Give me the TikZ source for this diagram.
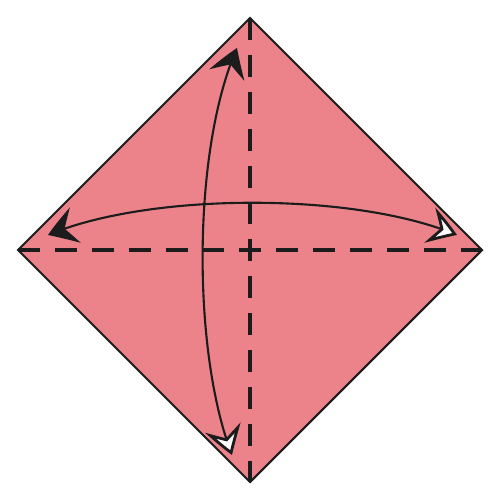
\documentclass[tikz,border=0pt]{standalone}
\usetikzlibrary{arrows.meta,bending}
\definecolor{paper}{RGB}{236,131,139}
\definecolor{ink}{RGB}{28,28,28}
\tikzset{
  blkhead/.tip={Stealth[length=16pt,width=21pt,inset=6pt,fill=ink,bend]},
  whthead/.tip={Stealth[length=16pt,width=21pt,inset=6pt,fill=white,line width=1.6pt,bend]}
}
\begin{document}
\begin{tikzpicture}[x=0.02cm,y=-0.02cm,
  sheet/.style={fill=paper},
  edge/.style={draw=ink,line width=1.2pt,line join=miter},
  valley/.style={draw=ink,line width=1.9pt,dash pattern=on 0.44cm off 0.298cm},
  move/.style={draw=ink,line width=1.2pt}]
\useasboundingbox (0,0) rectangle (500,500);
\fill[white] (0,0) rectangle (500,500);
\coordinate (T) at (250,18);
\coordinate (L) at (18,250);
\coordinate (R) at (482,250);
\coordinate (B) at (250,482);
\coordinate (a1) at (48,235);
\coordinate (a2) at (457,235);
\coordinate (b1) at (232,455);
\coordinate (b2) at (237,48);
\fill[sheet] (T) -- (R) -- (B) -- (L) -- cycle;
\draw[valley] (T) -- (B);
\draw[valley] (L) -- (R);
\draw[edge] (T) -- (R) -- (B) -- (L) -- cycle;
\draw[move,{blkhead}-{whthead}] (a1) .. controls (150,192) and (355,192) .. (a2);
\draw[move,{whthead}-{blkhead}] (b1) .. controls (192,352) and (192,150) .. (b2);
\end{tikzpicture}
\end{document}
